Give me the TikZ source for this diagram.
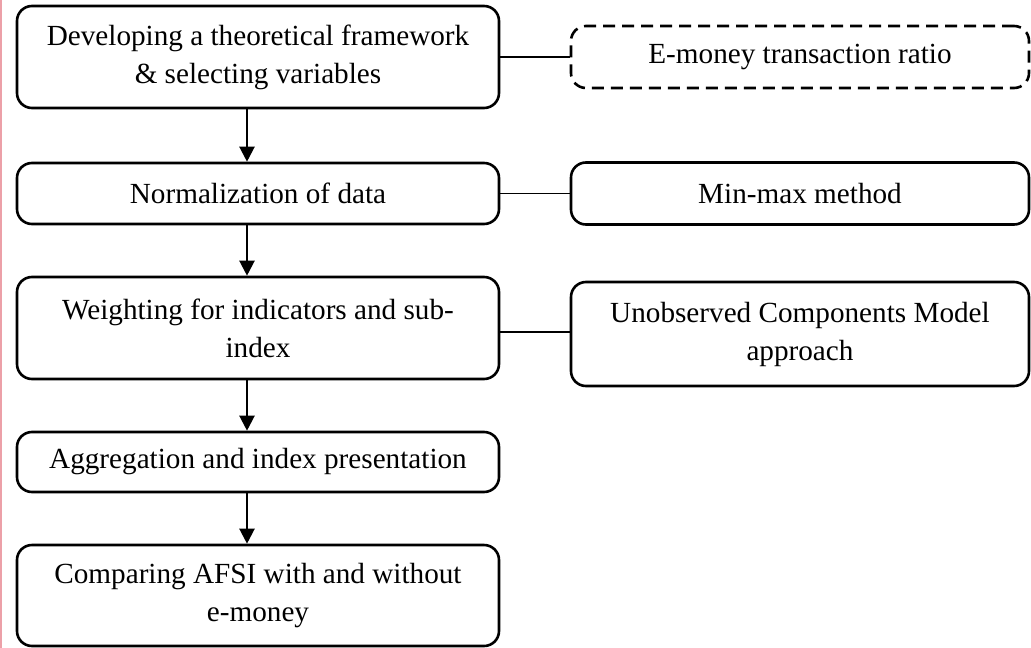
\documentclass[tikz,border=0pt]{standalone}
\usepackage{fontspec}
\setmainfont{Liberation Serif}
\usetikzlibrary{arrows.meta,calc}
\definecolor{edgepink}{RGB}{236,160,168}
\begin{document}
\begin{tikzpicture}[x=1pt,y=-1pt,
  box/.style={draw, line width=2.6pt, rounded corners=15pt, align=center,
    font=\fontsize{29.2}{38}\selectfont, inner sep=0pt},
  leftbox/.style={box, minimum width=482pt},
  rightbox/.style={box, minimum width=458pt},
  dashbox/.style={rightbox, dash pattern=on 12pt off 7pt},
  arr/.style={line width=2.2pt, -{Triangle[width=15pt,length=15pt]}},
  link/.style={line width=1.3pt}]
\useasboundingbox (0,0) rectangle (1031,648);
\draw[edgepink, line width=2pt] (1,0) -- (1,648);
\coordinate (ax) at (247,0);
\node[leftbox, minimum height=102pt] (b1) at (258,57) {Developing a theoretical framework\\\& selecting variables};
\node[leftbox, minimum height=61pt] (b2) at (258,193.5) {Normalization of data};
\node[leftbox, minimum height=102pt] (b3) at (258,328) {Weighting for indicators and sub-\\index};
\node[leftbox, minimum height=60pt] (b4) at (258,462) {Aggregation and index presentation};
\node[leftbox, minimum height=101pt] (b5) at (258,595.5) {Comparing AFSI with and without\\e-money};
\node[dashbox, minimum height=62pt] (r1) at (800,57) {E-money transaction ratio};
\node[rightbox, minimum height=62pt] (r2) at (800,193.5) {Min-max method};
\node[rightbox, minimum height=104pt] (r3) at (800,334) {Unobserved Components Model\\approach};
\draw[arr] (b1.south -| ax) -- (b2.north -| ax);
\draw[arr] (b2.south -| ax) -- (b3.north -| ax);
\draw[arr] (b3.south -| ax) -- (b4.north -| ax);
\draw[arr] (b4.south -| ax) -- (b5.north -| ax);
\draw[link] (b1.east) -- (b1.east -| r1.west);
\draw[link] (b2.east) -- (b2.east -| r2.west);
\draw[link] ($(b3.east)+(0,4)$) -- ($(b3.east -| r3.west)+(0,4)$);
\end{tikzpicture}
\end{document}
